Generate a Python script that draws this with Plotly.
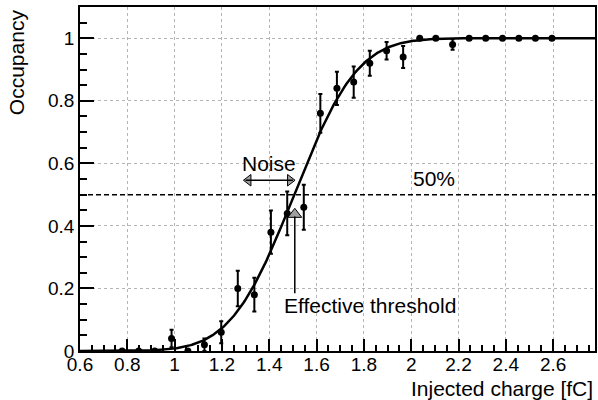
import math
import plotly.graph_objects as go

# Data points (injected charge [fC], occupancy, error)
charge = [0.778, 0.848, 0.916, 0.987, 1.056, 1.126, 1.197, 1.267, 1.337, 1.407,
          1.476, 1.546, 1.616, 1.686, 1.757, 1.825, 1.896, 1.966, 2.036, 2.104,
          2.175, 2.245, 2.315, 2.386, 2.455, 2.525, 2.595]
occupancy = [0.0, 0.0, 0.0, 0.04, 0.0, 0.02, 0.06, 0.20, 0.18, 0.38,
             0.44, 0.46, 0.76, 0.84, 0.86, 0.92, 0.96, 0.94, 1.0, 1.0,
             0.98, 1.0, 1.0, 1.0, 1.0, 1.0, 1.0]
err = [0.0, 0.0, 0.0, 0.028, 0.0, 0.02, 0.035, 0.057, 0.054, 0.069,
       0.07, 0.072, 0.062, 0.053, 0.05, 0.04, 0.028, 0.035, 0.0, 0.0,
       0.017, 0.0, 0.0, 0.0, 0.0, 0.0, 0.0]

# Fit (error function S-curve) parameters
fit_mu = 1.505
fit_sigma = 0.21
fit_x = [0.6 + i * (2.777 - 0.6) / 400 for i in range(401)]
fit_y = [0.5 * (1 + math.erf((x - fit_mu) / (fit_sigma * math.sqrt(2)))) for x in fit_x]

x_ticks = [0.6, 0.8, 1.0, 1.2, 1.4, 1.6, 1.8, 2.0, 2.2, 2.4, 2.6]
x_ticklabels = ["0.6", "0.8", "1", "1.2", "1.4", "1.6", "1.8", "2", "2.2", "2.4", "2.6"]
y_ticks = [0, 0.2, 0.4, 0.6, 0.8, 1.0]
y_ticklabels = ["0", "0.2", "0.4", "0.6", "0.8", "1"]

FONT = "Liberation Sans, Arial, Helvetica, sans-serif"
TXT = 21

fig = go.Figure()

# 50% line
fig.add_shape(type="line", xref="paper", x0=0, x1=1, yref="y", y0=0.5, y1=0.5,
              line=dict(color="black", width=1.5, dash="5px,3px"))

# Fit curve
fig.add_trace(go.Scatter(x=fit_x, y=fit_y, mode="lines",
                         line=dict(color="black", width=2.5), hoverinfo="skip"))

# Data
fig.add_trace(go.Scatter(x=charge, y=occupancy, mode="markers",
                         marker=dict(color="black", size=7),
                         error_y=dict(type="data", array=err, color="black",
                                      thickness=2, width=2)))

# Noise double arrow
fig.add_shape(type="line", x0=1.30, x1=1.50, y0=0.546, y1=0.546,
              line=dict(color="black", width=1.5))
fig.add_trace(go.Scatter(x=[1.312, 1.488], y=[0.546, 0.546], mode="markers",
                         marker=dict(symbol=["triangle-left", "triangle-right"], size=10,
                                     color="#a0a0a0", line=dict(color="black", width=1)),
                         hoverinfo="skip"))

# Effective threshold arrow
fig.add_shape(type="line", x0=1.508, x1=1.508, y0=0.185, y1=0.43,
              line=dict(color="black", width=1.5))
fig.add_trace(go.Scatter(x=[1.508], y=[0.437], mode="markers",
                         marker=dict(symbol="triangle-up", size=12,
                                     color="#a0a0a0", line=dict(color="black", width=1)),
                         hoverinfo="skip"))

fig.add_annotation(x=1.40, y=0.598, text="Noise", showarrow=False,
                   font=dict(size=TXT, family=FONT, color="black"))
fig.add_annotation(x=2.095, y=0.553, text="50%", showarrow=False,
                   font=dict(size=TXT, family=FONT, color="black"))
fig.add_annotation(x=1.455, y=0.145, text="Effective threshold", showarrow=False,
                   xanchor="left", font=dict(size=TXT, family=FONT, color="black"))

# Axis titles
fig.add_annotation(xref="paper", yref="paper", x=1.0, y=-0.11, text="Injected charge [fC]",
                   showarrow=False, xanchor="right", yanchor="middle",
                   font=dict(size=TXT, family=FONT, color="black"))
fig.add_annotation(xref="paper", yref="paper", x=-0.124, y=1.0, text="Occupancy",
                   showarrow=False, textangle=-90, xanchor="center", yanchor="top",
                   font=dict(size=TXT, family=FONT, color="black"))

fig.update_layout(
    width=598, height=400,
    margin=dict(l=80, r=1, t=7, b=49),
    paper_bgcolor="white", plot_bgcolor="white",
    showlegend=False,
    font=dict(family=FONT, size=19, color="black"),
)
fig.update_xaxes(range=[0.6, 2.777], tickvals=x_ticks, ticktext=x_ticklabels,
                 ticks="inside", ticklen=12, tickwidth=1.5, tickcolor="black",
                 minor=dict(dtick=0.05, ticks="inside", ticklen=6, tickcolor="black",
                            showgrid=False),
                 showline=True, linecolor="black", linewidth=1.5, mirror=True,
                 showgrid=True, gridcolor="#b4b4b4", griddash="3px,3px", gridwidth=1,
                 zeroline=False, tickfont=dict(size=19), ticklabelstandoff=-5)
fig.update_yaxes(range=[0, 1.1], tickvals=y_ticks, ticktext=y_ticklabels,
                 ticks="inside", ticklen=14, tickwidth=1.5, tickcolor="black",
                 minor=dict(dtick=0.05, ticks="inside", ticklen=7, tickcolor="black",
                            showgrid=False),
                 showline=True, linecolor="black", linewidth=1.5, mirror=True,
                 showgrid=True, gridcolor="#b4b4b4", griddash="3px,3px", gridwidth=1,
                 zeroline=False, tickfont=dict(size=19))

fig.write_html("out.html")
